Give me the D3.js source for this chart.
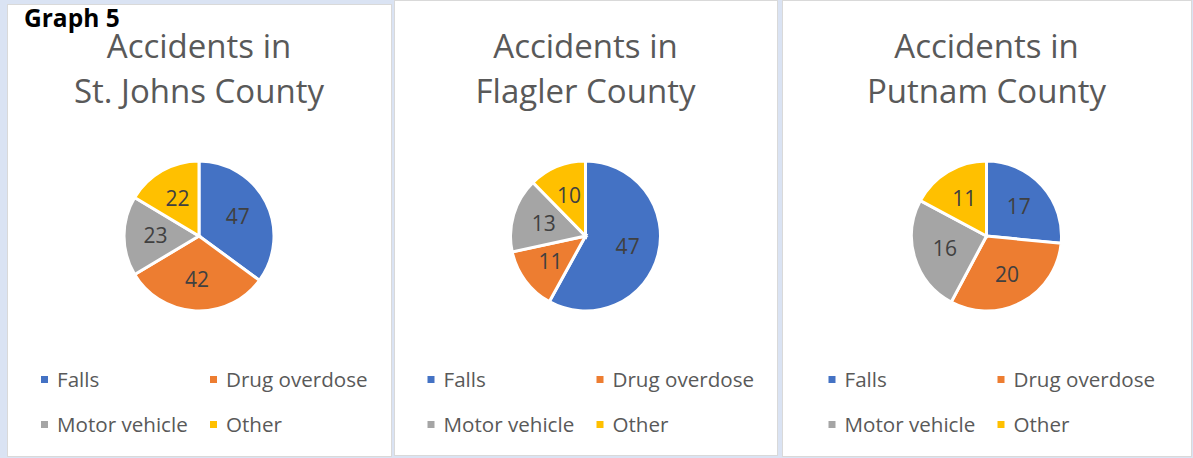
<!DOCTYPE html>
<html>
<head>
<meta charset="utf-8">
<script src="https://cdn.jsdelivr.net/npm/d3@7"></script>
<style>
  html, body { margin: 0; padding: 0; background: #dae3f3; }
  svg { display: block; }
</style>
</head>
<body>
<div id="chart"></div>
<script>
// data
const categories = ["Falls", "Drug overdose", "Motor vehicle", "Other"];
const counties = ["St. Johns County", "Flagler County", "Putnam County"];
const stJohnsValues = [47, 42, 23, 22];
const flaglerValues = [47, 11, 13, 10];
const putnamValues = [17, 20, 16, 11];

function setupChart() {
    const width = 1193
    const height = 458

    // panel boxes (left, top, right, bottom)
    const panels = [
        {x0: 7, y0: 4, x1: 391, y1: 456, values: stJohnsValues, name: counties[0]},
        {x0: 394, y0: 0, x1: 777, y1: 455, values: flaglerValues, name: counties[1]},
        {x0: 782, y0: 0, x1: 1191, y1: 456, values: putnamValues, name: counties[2]}
    ];

    let svg = d3.select("#chart")
        .append("svg")
        .attr("width", width)
        .attr("height", height);

    let color = d3.scaleOrdinal()
        .domain(categories)
        .range(["#4472c4", "#ed7d31", "#a5a5a5", "#ffc000"]);

    const radius = 75

    let pie = d3.pie()
        .sort(null)
        .value(function (d) { return d.value; });

    let arc = d3.arc()
        .innerRadius(0)
        .outerRadius(radius);

    // labels sit a bit inside the middle of each slice
    let labelArc = d3.arc()
        .innerRadius(radius * 0.58)
        .outerRadius(radius * 0.58);

    panels.forEach(function (p) {
        const cx = (p.x0 + p.x1) / 2;

        svg.append("rect")
            .attr("x", p.x0 + 0.5)
            .attr("y", p.y0 + 0.5)
            .attr("width", p.x1 - p.x0)
            .attr("height", p.y1 - p.y0)
            .attr("fill", "white")
            .attr("stroke", "#d9d9d9")
            .attr("stroke-width", 1);

        let g = svg.append("g");

        // two-line title
        let title = g.append("text")
            .attr("text-anchor", "middle")
            .style("font-family", "'Open Sans', sans-serif")
            .style("font-size", "33px")
            .attr("fill", "#595959");
        title.append("tspan").attr("x", cx).attr("y", 58).text("Accidents in");
        title.append("tspan").attr("x", cx).attr("y", 103).text(p.name);

        let data = categories.map(function (c, i) { return {key: c, value: p.values[i]}; });
        let data_ready = pie(data);

        let pieG = g.append("g")
            .attr("transform", "translate(" + cx + "," + 236 + ")");

        pieG.selectAll("path")
            .data(data_ready)
            .enter()
            .append("path")
            .attr("d", arc)
            .attr("fill", function (d) { return color(d.data.key); })
            .attr("stroke", "white")
            .style("stroke-width", "3px");

        pieG.selectAll("text")
            .data(data_ready)
            .enter()
            .append("text")
            .attr("transform", function (d) { return "translate(" + labelArc.centroid(d) + ")"; })
            .attr("text-anchor", "middle")
            .attr("dy", "0.35em")
            .style("font-family", "'Open Sans', sans-serif")
            .style("font-size", "21px")
            .attr("fill", "#404040")
            .text(function (d) { return d.data.value; });

        // legend, 2 x 2
        const lx = cx - 158
        let legend = g.selectAll("g.leg")
            .data(categories)
            .enter()
            .append("g")
            .attr("transform", function (d, i) {
                return "translate(" + (lx + (i % 2) * 169) + "," + (380 + Math.floor(i / 2) * 45) + ")";
            });

        legend.append("rect")
            .attr("x", 0)
            .attr("y", -4)
            .attr("width", 7)
            .attr("height", 7)
            .attr("fill", function (d) { return color(d); });

        legend.append("text")
            .attr("x", 16)
            .attr("y", 0)
            .attr("dy", "0.35em")
            .style("font-family", "'Open Sans', sans-serif")
            .style("font-size", "20.6px")
            .attr("fill", "#595959")
            .text(function (d) { return d; });
    });

    svg.append("text")
        .attr("x", 24)
        .attr("y", 27)
        .style("font-family", "'Open Sans', sans-serif")
        .style("font-size", "24.5px")
        .style("font-weight", "bold")
        .attr("fill", "black")
        .text("Graph 5");
}

setupChart();
</script>
</body>
</html>
